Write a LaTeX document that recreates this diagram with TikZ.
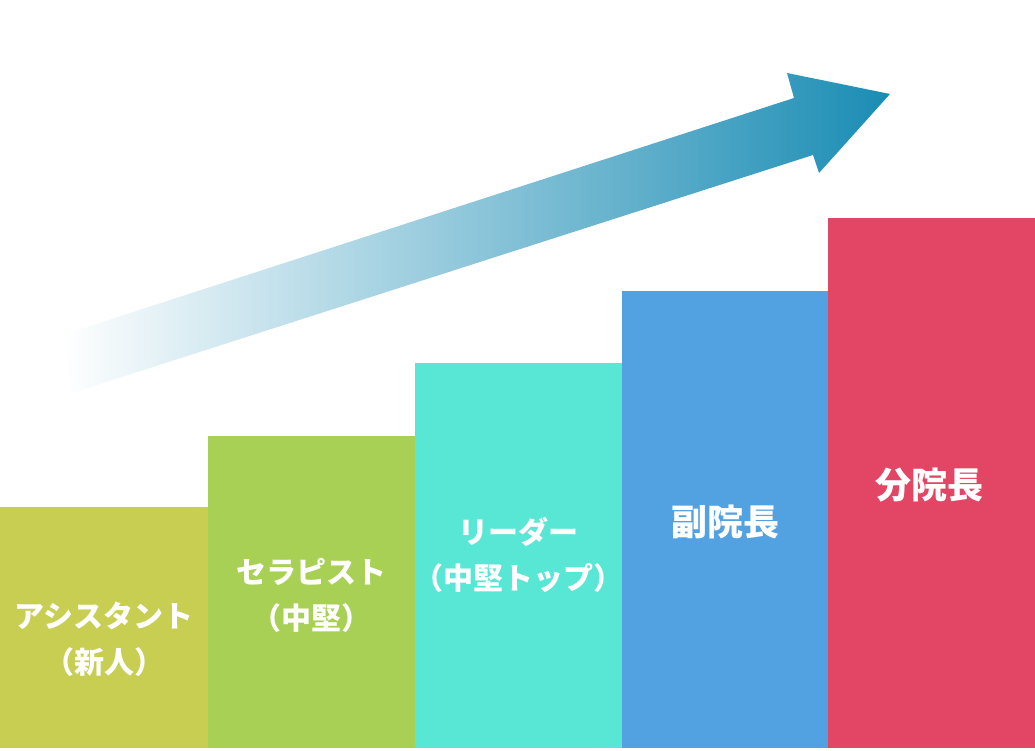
\documentclass[tikz,border=0pt]{standalone}
\usepackage{fontspec}
\newfontfamily\cjk{Noto Sans CJK JP}
\usepackage{xcolor}
\usetikzlibrary{positioning,calc}
\definecolor{stepA}{HTML}{C8CE52}
\definecolor{stepB}{HTML}{A8D055}
\definecolor{stepC}{HTML}{58E6D5}
\definecolor{stepD}{HTML}{52A2E2}
\definecolor{stepE}{HTML}{E34565}
\definecolor{arrowteal}{HTML}{1A8CB4}
\tikzset{
  lab/.style={text=white, font=\cjk\bfseries\fontsize{30}{46}\selectfont, align=center, inner sep=0pt},
  biglab/.style={lab, font=\cjk\bfseries\fontsize{36}{46}\selectfont}
}

\begin{document}
\begin{tikzpicture}[x=1pt,y=-1pt]
            \useasboundingbox (0,0) rectangle (1035,751);
            % rising arrow
            \shade[left color=white, right color=arrowteal] (62,335)--(794,98)--(787,73)--(890,94)--(819,173)--(813,155)--(72,393)--cycle;
            % steps
            \fill[stepA] (0,507) rectangle (208,748);
            \fill[stepB] (208,436) rectangle (415,748);
            \fill[stepC] (415,363) rectangle (622,748);
            \fill[stepD] (622,291) rectangle (828,748);
            \fill[stepE] (828,218) rectangle (1035,748);
            \node[lab] (assistant) at (104,639) {アシスタント\\（新人）};
            \node[lab] (therapist) at (311,595) {セラピスト\\（中堅）};
            \node[lab] (leader) at (518,555) {リーダー\\（中堅トップ）};
            \node[biglab] (vice) at (725,522) {副院長};
            \node[biglab] (branch) at (929,485) {分院長};
        \end{tikzpicture}
\end{document}
